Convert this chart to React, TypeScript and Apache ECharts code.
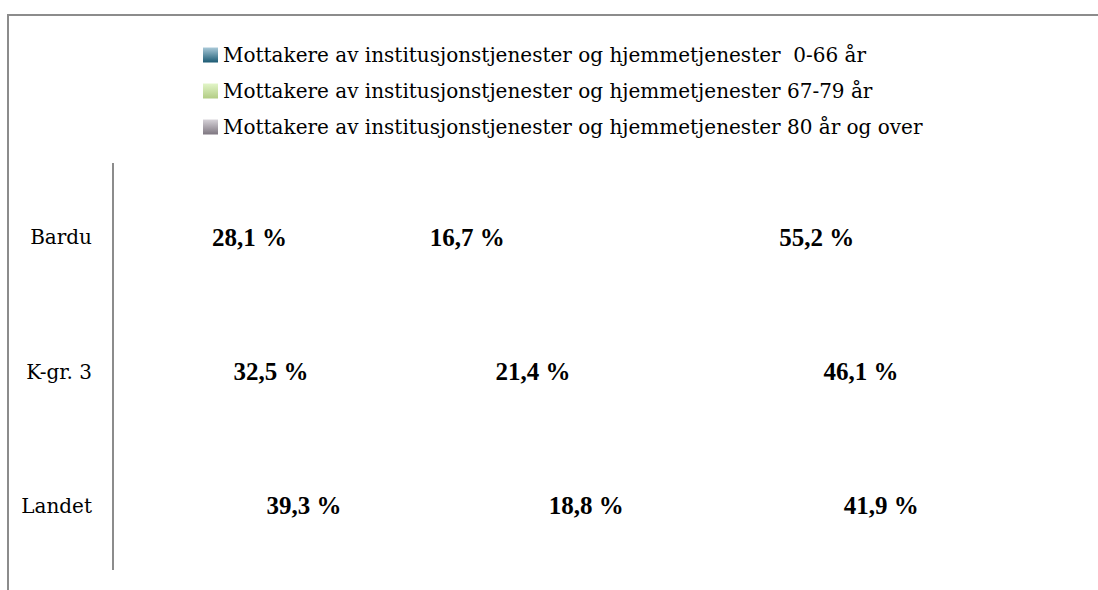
import React, { useEffect, useRef } from "react";
import * as echarts from "echarts";

const categories = ["Bardu", "K-gr. 3", "Landet"];
const seriesNames = [
  "Mottakere av institusjonstjenester og hjemmetjenester  0-66 år",
  "Mottakere av institusjonstjenester og hjemmetjenester 67-79 år",
  "Mottakere av institusjonstjenester og hjemmetjenester 80 år og over",
];
const age0to66 = [28.1, 32.5, 39.3];
const age67to79 = [16.7, 21.4, 18.8];
const age80plus = [55.2, 46.1, 41.9];

const FONT = "'DejaVu Serif', 'Liberation Serif', serif";
const BOLD_FONT = "'Liberation Serif', 'DejaVu Serif', serif";

export default function App() {
  const ref = useRef<HTMLDivElement>(null);
  useEffect(() => {
    if (!ref.current) return;
    const chart = echarts.init(ref.current, null, { renderer: "svg" });
    const grad = (top: string, bottom: string) =>
      new echarts.graphic.LinearGradient(0, 0, 0, 1, [
        { offset: 0, color: top },
        { offset: 1, color: bottom },
      ]);
    const legendColors = [
      grad("#a9c9d8", "#1b5a73"),
      grad("#e2f5c8", "#b2cc84"),
      grad("#d6d2d8", "#7e7680"),
    ];
    const values = [age0to66, age67to79, age80plus];
    const series = values.map((vals, i) => ({
      name: seriesNames[i],
      type: "bar",
      stack: "total",
      barWidth: "60%",
      data: vals,
      itemStyle: { color: "rgba(0,0,0,0)" },
      label: {
        show: true,
        position: "inside",
        formatter: (p: any) => p.value.toFixed(1).replace(".", ",") + " %",
        fontFamily: BOLD_FONT,
        fontWeight: "bold",
        fontSize: 25,
        color: "#000",
      },
    }));
    chart.setOption({
      animation: false,
      backgroundColor: "#fff",
      legend: {
        orient: "vertical",
        left: 198,
        top: 40,
        itemWidth: 15,
        itemHeight: 15,
        itemGap: 16,
        icon: "rect",
        textStyle: { fontFamily: FONT, fontSize: 20, color: "#000" },
        data: seriesNames.map((n, i) => ({
          name: n,
          itemStyle: { color: legendColors[i] },
        })),
        selectedMode: false,
      },
      grid: { left: 113, right: 13, top: 170, bottom: 17 },
      xAxis: {
        type: "value",
        min: 0,
        max: 100,
        show: false,
      },
      yAxis: {
        type: "category",
        data: categories,
        inverse: true,
        axisLine: { show: false },
        axisTick: { show: false },
        axisLabel: {
          fontFamily: FONT,
          fontSize: 20,
          color: "#000",
          margin: 21,
        },
      },
      graphic: [
        {
          type: "rect",
          shape: { x: 8, y: 15, width: 1200, height: 700 },
          style: { fill: "none", stroke: "#8c8c8c", lineWidth: 2 },
          silent: true,
        },
        {
          type: "line",
          shape: { x1: 113, y1: 163, x2: 113, y2: 570 },
          style: { stroke: "#8c8c8c", lineWidth: 2 },
          silent: true,
        },
      ],
      series,
    });
    return () => chart.dispose();
  }, []);
  return (
    <div
      ref={ref}
      style={{ position: "absolute", left: 0, top: 0, width: 1098, height: 590 }}
    />
  );
}
